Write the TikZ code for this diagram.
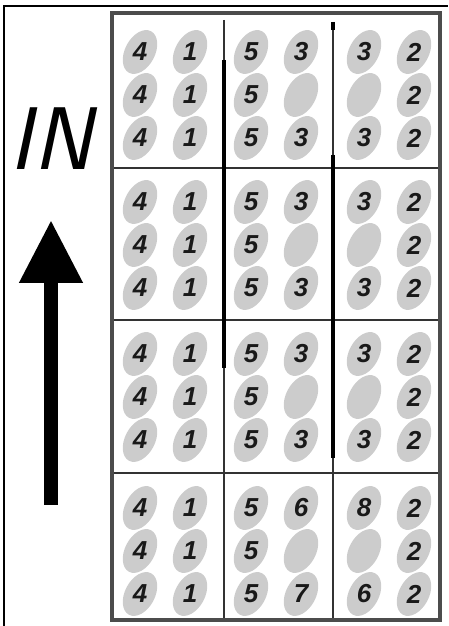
\documentclass[tikz,border=0pt]{standalone}
\usepackage{fontspec}
\newfontfamily\digitfont{Liberation Sans}
\usetikzlibrary{arrows.meta}

\begin{document}
\begin{tikzpicture}[x=1pt,y=1pt,
spot/.style={fill=gray!40},
digit/.style={font=\digitfont\bfseries\itshape\fontsize{26}{26}\selectfont,text=black!90,inner sep=0pt},
thinline/.style={line width=1.8pt,draw=black!80},
thickline/.style={line width=3.5pt,draw=black}]
\useasboundingbox (0,0) rectangle (448,626);
\draw[line width=1.5pt] (4,0) |- (448,620);
\foreach \r/\cy in {1/531,2/381,3/229}{
  \foreach \c/\cx/\ta/\tb/\ma/\mb/\ba/\bb in {1/165/4/1/4/1/4/1,2/276/5/3/5//5/3,3/389/3/2//2/3/2}{
    \foreach \dx/\dy/\dg [count=\k] in {-25/43/\ta,25/43/\tb,-25/0/\ma,25/0/\mb,-25/-43/\ba,25/-43/\bb}{
      \coordinate (s\r\c\k) at (\cx+\dx,\cy+\dy);
      \fill[spot,rotate around={62:(s\r\c\k)}] (s\r\c\k) ellipse (23.5 and 15);
      \node[digit] (d\r\c\k) at (s\r\c\k) {\dg};
    }
  }
}
\foreach \c/\cx/\ta/\tb/\ma/\mb/\ba/\bb in {1/165/4/1/4/1/4/1,2/276/5/6/5//5/7,3/389/8/2//2/6/2}{
  \foreach \dx/\dy/\dg [count=\k] in {-25/43/\ta,25/43/\tb,-25/0/\ma,25/0/\mb,-25/-43/\ba,25/-43/\bb}{
    \coordinate (s4\c\k) at (\cx+\dx,75+\dy);
    \fill[spot,rotate around={62:(s4\c\k)}] (s4\c\k) ellipse (23.5 and 15);
    \node[digit] (d4\c\k) at (s4\c\k) {\dg};
  }
}
\draw[thinline] (112,458) -- (440,458) (112,306) -- (440,306) (112,153) -- (440,153);
\draw[thinline] (224,606) -- (224,6) (333,604) -- (333,6);
\draw[thickline] (224,566) -- (224,258) (333,604) -- (333,596) (333,471) -- (333,168);
\draw[line width=4.5pt,black!70] (112,6) rectangle (440,613);
\node[font=\sffamily\slshape\fontsize{89}{89}\selectfont,inner sep=0pt] (dir) at (51,487) {IN};
\coordinate (tail) at (51,121);
\coordinate (tip) at (51,406);
\draw[line width=14pt,-{Triangle[length=63pt,width=60pt]}] (tail) -- (tip);
\end{tikzpicture}
\end{document}
